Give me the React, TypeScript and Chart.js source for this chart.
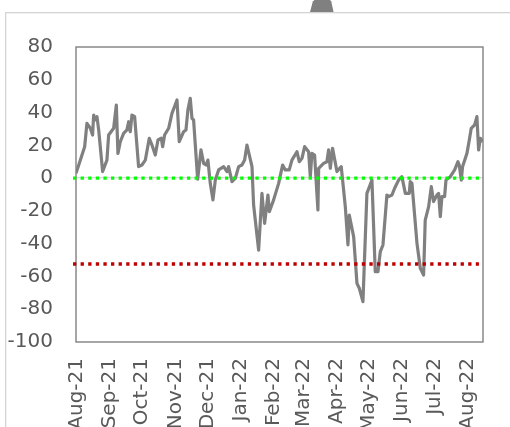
import { useEffect, useRef } from 'react';
import { Chart, registerables } from 'chart.js';

Chart.register(...registerables);

const monthDays = [0, 31, 61, 92, 122, 153, 184, 212, 243, 273, 304, 334, 365];
const monthLabels = ['Aug-21', 'Sep-21', 'Oct-21', 'Nov-21', 'Dec-21', 'Jan-22', 'Feb-22', 'Mar-22', 'Apr-22', 'May-22', 'Jun-22', 'Jul-22', 'Aug-22'];

// days since 1 Aug 2021
const days = [
  -0.9, 2.2, 7.2, 9.3, 12.5, 14.6, 15.6, 17.1, 18.7, 20.3,
  24.0, 28.0, 29.6, 34.3, 36.8, 38.3, 40.5, 43.6, 46.7, 48.3,
  49.8, 51.4, 53.9, 57.6, 60.7, 63.9, 67.6, 70.1, 73.2, 75.7,
  78.8, 80.1, 81.9, 85.7, 88.8, 93.5, 95.6, 99.7, 101.9, 103.7,
  105.9, 107.5, 109.0, 112.8, 115.9, 118.4, 120.6, 122.4, 124.6, 127.1,
  129.3, 132.4, 137.1, 140.2, 141.7, 144.9, 148.0, 151.1, 154.2, 156.7,
  158.9, 163.6, 165.1, 169.8, 172.9, 175.4, 178.5, 179.8, 183.8, 188.5,
  192.2, 194.7, 198.4, 200.9, 205.6, 207.8, 210.3, 212.8, 216.5, 218.1,
  219.6, 222.1, 225.2, 225.9, 230.5, 233.6, 235.2, 236.8, 238.9, 243.0,
  247.0, 250.8, 253.3, 254.5, 258.6, 261.7, 263.9, 267.3, 271.0, 275.7,
  278.8, 281.3, 283.5, 286.0, 289.7, 291.3, 294.4, 296.9, 300.6, 303.7,
  306.9, 310.6, 311.5, 313.1, 317.8, 320.9, 324.0, 325.5, 328.7, 331.2,
  333.3, 336.5, 338.0, 339.6, 341.1, 343.6, 344.9, 348.9, 353.0, 356.1,
  357.3, 359.2, 360.4, 364.5, 366.7, 368.5, 371.7, 373.8, 375.4, 377.0,
  379.3,
];

const values = [
  2.9, 9, 19.2, 33.4, 30.4, 26.3, 38.5, 35.5, 37.5, 29.4,
  4, 11, 26.3, 30.4, 44.6, 15.1, 22.2, 27.3, 29.4, 34.4,
  28.3, 38.5, 37.5, 7, 8, 11, 24.3, 20.2, 14.1, 23.3,
  24.3, 19.2, 26.3, 30.4, 39.5, 47.7, 22.2, 28.3, 29.4, 41.6,
  48.7, 36.5, 35.5, -0.7, 17.2, 9, 8, 11, -3.2, -13.3,
  -1.2, 5, 7, 4, 7, -2.2, -0.2, 7, 8, 11,
  20.2, 7, -16.4, -43.9, -9.3, -27.6, -10.3, -20.5, -13.3, -3.2,
  8, 5, 5, 11, 16.1, 10, 12.1, 19.2, 16.1, 0.9,
  15.1, 14.1, -19.4, 6, 9, 10, 17.2, 6, 18.2, 4,
  7, -17.4, -40.8, -22.5, -35.7, -64.2, -67.2, -75.4, -9.3, -1.2,
  -57.1, -57.1, -44.9, -40.8, -10.3, -11.3, -10.3, -6.2, -1.2, 0.9,
  -9.3, -9.3, -2.2, -3.2, -39.8, -55, -59.1, -25.6, -17.4, -5.2,
  -14.3, -10.3, -9.3, -23.5, -11.3, -11.3, -1.2, 0.9, 5, 10,
  8, -1.2, 7, 15.1, 23.3, 30.4, 32.5, 37.5, 17.2, 24.3,
  22.2,
];

const zeroLevel = 0;
const thresholdLevel = -52.4;
const refSpan = [-3.7, 375.7];

const TEXT = '#595959';
const FONT = { family: 'DejaVu Sans', size: 20 };

const decor = {
  id: 'decor',
  beforeDraw(chart: any) {
    const c = chart.ctx;
    c.save();
    c.fillStyle = '#ffffff';
    c.fillRect(0, 0, chart.width, chart.height);
    c.fillStyle = '#d4d4d4';
    c.fillRect(5, 12, 1.3, chart.height - 12);
    c.fillRect(5, 12, chart.width - 5, 1.3);
    c.fillStyle = '#808080';
    c.beginPath();
    c.moveTo(310, 12);
    c.lineTo(312.8, 1.5);
    c.lineTo(314.5, 0);
    c.lineTo(330, 0);
    c.lineTo(331.3, 1.5);
    c.lineTo(333.5, 12);
    c.closePath();
    c.fill();
    c.restore();
  },
  beforeDatasetsDraw(chart: any) {
    const { ctx, chartArea: a } = chart;
    ctx.save();
    ctx.strokeStyle = '#808080';
    ctx.lineWidth = 1.4;
    ctx.strokeRect(a.left, a.top, a.right - a.left, a.bottom - a.top);
    ctx.restore();
  },
};

export default function App() {
  const ref = useRef<HTMLCanvasElement>(null);
  useEffect(() => {
    if (!ref.current) return;
    const refLine = (level: number, color: string, label: string) => ({
      label,
      data: refSpan.map((x) => ({ x, y: level })),
      borderColor: color,
      borderWidth: 3.3,
      borderDash: [3.3, 4.3],
      borderCapStyle: 'butt',
      pointRadius: 0,
      tension: 0,
      clip: false,
    });
    const chart = new Chart(ref.current, {
      type: 'line',
      data: {
        datasets: [
          refLine(zeroLevel, '#00ff00', 'zero'),
          refLine(thresholdLevel, '#c00000', 'threshold'),
          {
            label: 'index',
            data: days.map((d, i) => ({ x: d, y: values[i] })),
            borderColor: '#808080',
            borderWidth: 3.2,
            pointRadius: 0,
            tension: 0,
            borderJoinStyle: 'round',
          } as any,
        ] as any,
      },
      options: {
        animation: false,
        responsive: false,
        maintainAspectRatio: false,
        layout: { padding: { top: 47, right: 27, left: 0, bottom: 0 } },
        plugins: { legend: { display: false }, tooltip: { enabled: false } },
        scales: {
          x: {
            type: 'linear',
            min: -0.9,
            max: 379.5,
            afterBuildTicks: (scale: any) => {
              scale.ticks = monthDays.map((v) => ({ value: v }));
            },
            afterFit: (scale: any) => {
              scale.height = 85;
            },
            ticks: {
              autoSkip: false,
              minRotation: 90,
              maxRotation: 90,
              padding: 16,
              color: TEXT,
              font: FONT,
              callback: (_v: any, i: number) => monthLabels[i],
            },
            grid: { display: false, drawTicks: false },
            border: { display: false },
          },
          y: {
            min: -100,
            max: 80,
            afterFit: (scale: any) => {
              scale.width = 76;
            },
            ticks: { stepSize: 20, padding: 23, color: TEXT, font: FONT },
            grid: {
              drawTicks: false,
              lineWidth: 1.3,
              color: (ctx: any) => (ctx.tick && ctx.tick.value === 0 ? '#d9d9d9' : 'rgba(0,0,0,0)'),
            },
            border: { display: false },
          },
        },
      } as any,
      plugins: [decor],
    });
    return () => chart.destroy();
  }, []);
  return (
    <div style={{ position: 'fixed', left: 0, top: 0, width: 510, height: 427, overflow: 'hidden' }}>
      <canvas ref={ref} width={510} height={427} style={{ display: 'block' }} />
    </div>
  );
}
